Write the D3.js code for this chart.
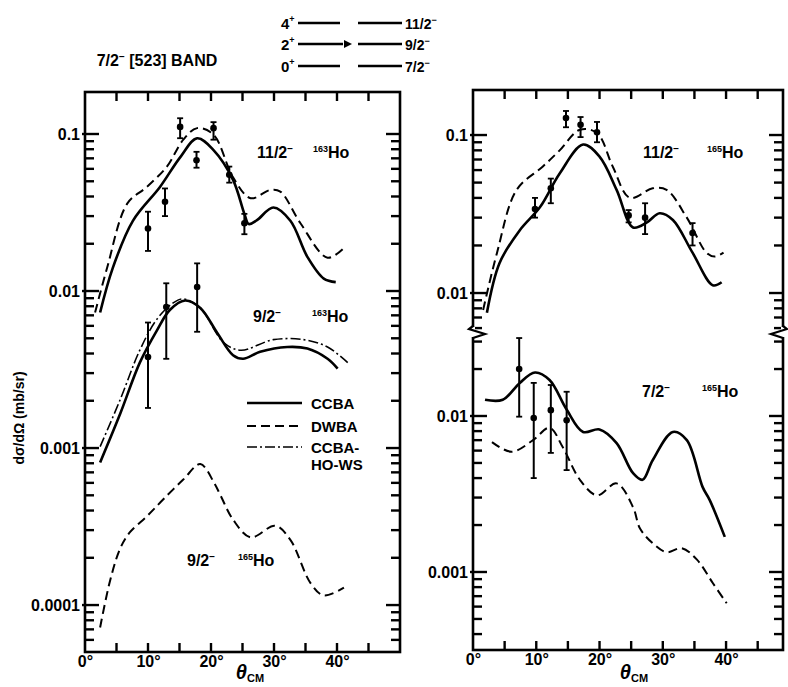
<!DOCTYPE html>
<html lang="en">
<head>
<meta charset="UTF-8">
<title>7/2- [523] band cross sections</title>
<script src="https://d3js.org/d3.v7.min.js"></script>
<style>
    body { margin: 0; background: #fff; }
    text { font-family: "Liberation Sans", Arial, sans-serif; font-weight: bold; fill: #000; }
    .frame { fill: none; stroke: #000; stroke-width: 2.6; }
    .curve { fill: none; stroke: #000; }
    .ccba { stroke-width: 2.6; }
    .dwba { stroke-width: 2; stroke-dasharray: 9 5; }
    .hows { stroke-width: 1.6; stroke-dasharray: 10 3 2 3; }
    .axis path { display: none; }
    .axis text { font-size: 16px; }
</style>
</head>
<body>
<script>
// ---- data: [theta_cm (deg), dsigma/dOmega (mb/sr)] ----

// left panel, 11/2- 163Ho
const l1Ccba = [[2.4,0.0073],[4.4,0.014],[7.6,0.028],[11.9,0.046],[15.1,0.071],[17.8,0.094],[20.4,0.079],
    [23.5,0.051],[25.3,0.031],[26,0.0267],[27.3,0.0283],[29.9,0.034],[32.6,0.028],[35.3,0.0165],[37.9,0.012],[39.8,0.0114]];
const l1Dwba = [[1.6,0.0073],[3.5,0.014],[6.7,0.036],[9.8,0.046],[13,0.062],[15.6,0.092],[17.8,0.109],[20.4,0.099],
    [23.5,0.053],[26.3,0.039],[29.4,0.044],[31,0.043],[34.2,0.027],[38.5,0.0163],[41.1,0.0188]];
// [theta, value, low, high]
const l1Points = [[10,0.025,0.018,0.032],[12.7,0.037,0.030,0.045],[15.1,0.111,0.094,0.126],[17.7,0.068,0.061,0.077],
    [20.4,0.109,0.092,0.119],[22.9,0.055,0.049,0.062],[25.3,0.027,0.023,0.031]];

// left panel, 9/2- 163Ho
const l2Ccba = [[2.4,0.00081],[5.6,0.00166],[8.7,0.0035],[11.4,0.0056],[13.5,0.0076],[15.9,0.0087],[18.3,0.0078],
    [21,0.0054],[23.5,0.0039],[25.1,0.0037],[27.8,0.0041],[32.1,0.0044],[35.3,0.0043],[38.5,0.0037],[40.1,0.0032]];
const l2Hows = [[2.4,0.00102],[5.6,0.00204],[8.7,0.0042],[11.4,0.0066],[14,0.0084],[15.6,0.0089],[18.3,0.0078],
    [22,0.0047],[24.7,0.0042],[29.9,0.0049],[34.7,0.0049],[38.5,0.0044],[41.7,0.0035]];
const l2Points = [[10,0.0038,0.0018,0.0063],[12.9,0.0079,0.0037,0.0112],[17.8,0.0106,0.0055,0.015]];

// left panel, 9/2- 165Ho
const l3Dwba = [[2.4,0.000072],[4,0.000144],[5.6,0.00023],[7.1,0.00029],[9.9,0.00037],[12.4,0.00047],[15.6,0.00063],
    [18.3,0.00079],[20.5,0.0006],[21.5,0.0005],[23.5,0.00035],[26.3,0.00027],[30.2,0.00032],[32.6,0.00026],
    [35.8,0.000138],[37.9,0.000115],[41.1,0.000129]];

// right panel, 11/2- 165Ho
const r1Ccba = [[2.2,0.0075],[4.2,0.0155],[7.4,0.025],[10.6,0.035],[13.7,0.057],[17.4,0.087],[20,0.073],[22.7,0.045],
    [25.3,0.026],[27.5,0.028],[29.5,0.032],[31.6,0.029],[34.7,0.018],[37.9,0.0112],[39.3,0.0117]];
const r1Dwba = [[1.6,0.0078],[3.8,0.018],[6.9,0.045],[11,0.063],[13.7,0.080],[16.9,0.108],[19.6,0.103],[22.1,0.063],
    [24.8,0.040],[28.4,0.046],[30.6,0.045],[33.8,0.030],[36.9,0.018],[38.2,0.017],[39.6,0.018]];
const r1Points = [[9.8,0.034,0.030,0.040],[12.3,0.046,0.037,0.053],[14.7,0.128,0.112,0.142],[17,0.116,0.097,0.130],
    [19.6,0.104,0.090,0.121],[24.6,0.031,0.028,0.0335],[27.2,0.030,0.0236,0.037],[34.7,0.024,0.020,0.0277]];

// right panel, 7/2- 165Ho
const r2Ccba = [[1.9,0.0127],[4.7,0.0127],[7.4,0.0163],[9.8,0.019],[12.1,0.017],[14.8,0.011],[17.4,0.0079],[20,0.0082],
    [22.7,0.0067],[25.3,0.0043],[26.8,0.0039],[28.4,0.0052],[31.6,0.0079],[33.8,0.0070],[36.3,0.0035],[37.4,0.0029],[39.8,0.00168]];
const r2Dwba = [[3,0.0068],[6.1,0.0059],[9.5,0.0070],[12.1,0.0084],[14.2,0.0063],[16.9,0.0039],[19.6,0.0031],[22.7,0.0037],
    [25.3,0.0026],[26.4,0.0019],[28.4,0.00153],[30.6,0.00134],[33,0.00142],[35.4,0.0012],[37.9,0.00085],[40.1,0.00063]];
const r2Points = [[7.3,0.020,0.0099,0.0316],[9.6,0.0097,0.0040,0.0163],[12.3,0.0109,0.0058,0.0158],[14.8,0.0094,0.0045,0.0143]];

const xTickLabels = [0, 10, 20, 30, 40];
const legendLabels = ["CCBA", "DWBA", "CCBA-HO-WS"];
const bandLeft = ["4", "2", "0"];
const bandRight = ["11/2", "9/2", "7/2"];

// ---- canvas ----
const width = 788, height = 687;
const svg = d3.select("body").append("svg")
    .attr("width", width)
    .attr("height", height);

// scales
const xL = d3.scaleLinear().domain([0, 50]).range([85, 400]);
const yL = d3.scaleLog().domain([Math.pow(10, -4.299), Math.pow(10, -0.7325)]).range([652, 92]);
const xR = d3.scaleLinear().domain([0, 49]).range([473, 783]);
const yRU = d3.scaleLog().domain([Math.pow(10, -2.253), Math.pow(10, -0.715)]).range([333, 90]);
const yRL = d3.scaleLog().domain([Math.pow(10, -3.5), Math.pow(10, -1.468)]).range([650, 333]);

const fmtDecade = v => {
    const e = Math.round(Math.log10(v));
    return e < 0 ? "0." + "0".repeat(-e - 1) + "1" : String(v);
};
const isDecade = v => Math.abs(Math.log10(v) - Math.round(Math.log10(v))) < 1e-6;

// tick marks are collected here and drawn last, on top of everything
const tickSegs = [];

// y ticks pointing inward from both sides; decade labels via axisLeft
function yAxes(y, xLeft, xRight) {
    y.ticks().forEach(v => {
        const len = isDecade(v) ? 14 : 9, yy = y(v);
        tickSegs.push([xLeft - (isDecade(v) ? 3 : 0), yy, xLeft + len, yy]);
        tickSegs.push([xRight - len, yy, xRight, yy]);
    });
    svg.append("g").attr("class", "axis").attr("transform", `translate(${xLeft},0)`)
        .call(d3.axisLeft(y).tickValues(y.ticks().filter(isDecade)).tickSize(0).tickPadding(5).tickFormat(fmtDecade));
}

function xAxes(x, yBottom, yTop) {
    d3.range(5, x.domain()[1], 5).forEach(v => {
        tickSegs.push([x(v), yBottom, x(v), yBottom - 9]);
        tickSegs.push([x(v), yTop, x(v), yTop + 9]);
    });
    svg.append("g").attr("class", "axis").attr("transform", `translate(0,${yBottom})`)
        .call(d3.axisBottom(x).tickValues(xTickLabels).tickSize(0).tickPadding(4).tickFormat(d => d + "°"));
}

function curve(x, y, data, cls) {
    const line = d3.line()
        .x(d => x(d[0]))
        .y(d => y(d[1]))
        .curve(d3.curveCatmullRom.alpha(0.5));
    svg.append("path").datum(data).attr("class", "curve " + cls).attr("d", line);
}

function points(x, y, data) {
    const g = svg.append("g");
    data.forEach(d => {
        const cx = x(d[0]);
        g.append("line").attr("x1", cx).attr("x2", cx).attr("y1", y(d[2])).attr("y2", y(d[3]))
            .attr("stroke", "#000").attr("stroke-width", 2);
        [d[2], d[3]].forEach(v => g.append("line").attr("x1", cx - 3).attr("x2", cx + 3)
            .attr("y1", y(v)).attr("y2", y(v)).attr("stroke", "#000").attr("stroke-width", 1.8));
        g.append("circle").attr("cx", cx).attr("cy", y(d[1])).attr("r", 3.3).attr("fill", "#000");
    });
}

// state label like "11/2-   163Ho"
function stateLabel(spin, xs, xn, yb, mass) {
    const t = svg.append("text").attr("x", xs).attr("y", yb).style("font-size", "16px");
    t.append("tspan").text(spin);
    t.append("tspan").attr("dy", -6).style("font-size", "10px").text("\u2212");
    const n = svg.append("text").attr("x", xn).attr("y", yb).style("font-size", "16px");
    n.append("tspan").attr("dy", -6).style("font-size", "9px").text(mass);
    n.append("tspan").attr("dy", 6).text("Ho");
}

// ---- left panel ----
yAxes(yL, 85, 400);
xAxes(xL, 652, 92);
svg.append("rect").attr("class", "frame").attr("x", 85).attr("y", 92).attr("width", 315).attr("height", 560);

curve(xL, yL, l1Dwba, "dwba");
curve(xL, yL, l1Ccba, "ccba");
points(xL, yL, l1Points);
curve(xL, yL, l2Hows, "hows");
curve(xL, yL, l2Ccba, "ccba");
points(xL, yL, l2Points);
curve(xL, yL, l3Dwba, "dwba");

stateLabel("11/2", 257, 313, 158, "163");
stateLabel("9/2", 253, 312, 322, "163");
stateLabel("9/2", 187, 238, 566, "165");

// legend
const legendCls = ["ccba", "dwba", "hows"];
const legendY = [403, 426, 447];
legendLabels.forEach((lab, i) => {
    svg.append("line").attr("class", "curve " + legendCls[i])
        .attr("x1", 247).attr("x2", 302).attr("y1", legendY[i]).attr("y2", legendY[i]);
    const t = svg.append("text").attr("x", 311).attr("y", legendY[i] + 6).style("font-size", "15px");
    if (i === 2) {
        t.append("tspan").text("CCBA-");
        t.append("tspan").attr("x", 311).attr("dy", 17).text("HO-WS");
    } else {
        t.text(lab);
    }
});

// ---- right panel (broken y axis) ----
yAxes(yRU, 473, 783);
yAxes(yRL, 473, 783);
xAxes(xR, 650, 90);
svg.append("rect").attr("class", "frame").attr("x", 473).attr("y", 90).attr("width", 310).attr("height", 560);

curve(xR, yRU, r1Dwba, "dwba");
curve(xR, yRU, r1Ccba, "ccba");
points(xR, yRU, r1Points);
curve(xR, yRL, r2Dwba, "dwba");
curve(xR, yRL, r2Ccba, "ccba");
points(xR, yRL, r2Points);

stateLabel("11/2", 643, 707, 158, "165");
stateLabel("7/2", 642, 702, 397, "165");

// ---- titles and axis labels ----
const title = svg.append("text").attr("x", 157).attr("y", 66).attr("text-anchor", "middle").style("font-size", "16px");
title.append("tspan").text("7/2");
title.append("tspan").attr("dy", -6).style("font-size", "10px").text("\u2212");
title.append("tspan").attr("dy", 6).text("  [523]  BAND");

svg.append("text")
    .attr("transform", "translate(24,418) rotate(-90)")
    .attr("text-anchor", "middle")
    .style("font-size", "14px")
    .text("d\u03c3/d\u03a9  (mb/sr)");

[[250, 679], [634, 679]].forEach(([tx, ty]) => {
    const t = svg.append("text").attr("x", tx).attr("y", ty).attr("text-anchor", "middle").style("font-size", "20px");
    t.append("tspan").style("font-style", "italic").text("\u03b8");
    t.append("tspan").attr("dy", 3).style("font-size", "11px").text("CM");
});

// band diagram
const bandY = [23, 44, 66];
bandLeft.forEach((lab, i) => {
    const t = svg.append("text").attr("x", 281).attr("y", bandY[i] + 6).style("font-size", "15px");
    t.append("tspan").text(lab);
    t.append("tspan").attr("dy", -7).style("font-size", "9px").text("+");
    svg.append("line").attr("x1", 298).attr("x2", i === 1 ? 343 : 340).attr("y1", bandY[i]).attr("y2", bandY[i])
        .attr("stroke", "#000").attr("stroke-width", 2.4);
    svg.append("line").attr("x1", 358).attr("x2", 402).attr("y1", bandY[i]).attr("y2", bandY[i])
        .attr("stroke", "#000").attr("stroke-width", 2.4);
    const r = svg.append("text").attr("x", 405).attr("y", bandY[i] + 6).style("font-size", "14px");
    r.append("tspan").text(bandRight[i]);
    r.append("tspan").attr("dy", -6).style("font-size", "9px").text("\u2212");
});
svg.append("path").attr("d", "M344,40 L352,44 L344,48 Z").attr("fill", "#000");

// ---- tick marks, drawn on top ----
svg.append("g").selectAll("line")
    .data(tickSegs)
    .join("line")
    .attr("x1", d => d[0]).attr("y1", d => d[1])
    .attr("x2", d => d[2]).attr("y2", d => d[3])
    .attr("stroke", "#000")
    .attr("stroke-width", 2.4)
    .attr("stroke-linecap", "butt");

// axis breaks on the right panel
[[473, -1], [783, 1]].forEach(([bx, s]) => {
    svg.append("line").attr("x1", bx).attr("x2", bx).attr("y1", 327).attr("y2", 337)
        .attr("stroke", "#fff").attr("stroke-width", 4);
    svg.append("path")
        .attr("d", `M${bx},326 L${bx + 4 * s},329 L${bx - 12 * s},334 L${bx},338`)
        .attr("fill", "none").attr("stroke", "#000").attr("stroke-width", 2.2);
});
</script>
</body>
</html>
